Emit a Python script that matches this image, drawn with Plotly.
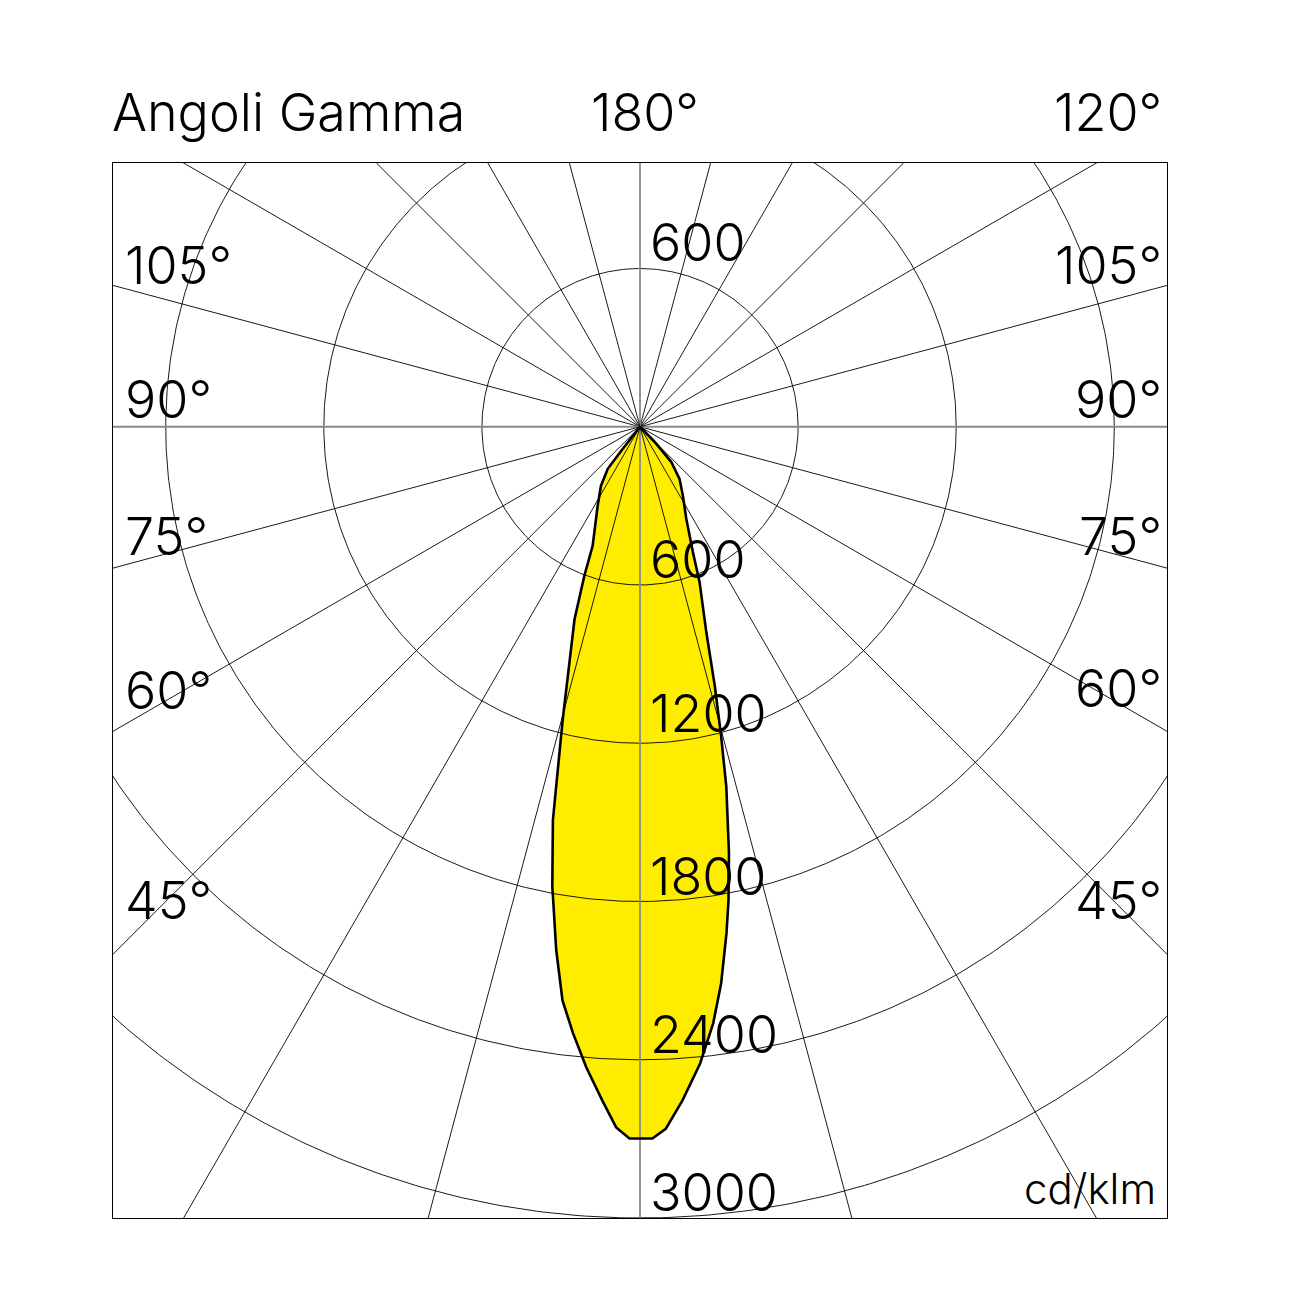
import numpy as np
import plotly.graph_objects as go

# ---- photometric data (cd/klm), gamma in degrees from nadir ----
gamma_right = [1.0, 2.1, 3.6, 5.4, 7.0, 8.3, 9.7, 10.6, 11.8, 13.5, 14.7, 16.1, 17.9,
               21.0, 22.9, 26.7, 31.9, 37.2, 41.7, 44.0, 90.0]
intensity_right = [2699, 2664, 2560, 2425, 2279, 2133, 1948, 1826, 1651, 1403, 1214, 1024, 819,
                   631, 516, 391, 308, 248, 178, 79, 0]
gamma_left = [0.85, 1.95, 3.2, 4.8, 6.3, 7.7, 9.1, 10.4, 10.8, 12.5, 13.5, 14.8, 18.8,
              20.5, 21.7, 28.2, 33.5, 37.5, 38.0, 90.0]
intensity_left = [2699, 2658, 2559, 2437, 2314, 2195, 2010, 1825, 1776, 1527, 1337, 1148, 771,
                  603, 486, 340, 268, 201, 106, 0]

circle_values = [600, 1200, 1800, 2400, 3000]
radial_angles = list(range(0, 360, 15))
side_angle_labels = ["105°", "90°", "75°", "60°", "45°"]
top_labels = ["Angoli Gamma", "180°", "120°"]
unit_label = "cd/klm"

FONT = "Inter, Liberation Sans, Arial, sans-serif"
WEIGHT = 300
OFF = 8  # page body offset
W = H = 1302
L, T = 113 - OFF, 163 - OFF
PW, PH = 1054, 1055
R = W - L - PW
B = H - T - PH

def px(xp):
    return (xp - OFF - L) / PW

def py(yp):
    return (T + PH - (yp - OFF)) / PH

fig = go.Figure()

# polar -> cartesian for the curve (gamma measured from straight down)
gr = np.radians(gamma_right[::-1])
ir = np.array(intensity_right[::-1], dtype=float)
gl = np.radians(gamma_left)
il = np.array(intensity_left, dtype=float)
cx = np.concatenate([[0], ir * np.sin(gr), -il * np.sin(gl), [0]])
cy = np.concatenate([[0], -ir * np.cos(gr), -il * np.cos(gl), [0]])

fig.add_trace(go.Scatter(x=cx, y=cy, mode="lines", fill="toself",
                         fillcolor="#FFED00", line=dict(width=0, color="rgba(0,0,0,0)"),
                         hoverinfo="skip", showlegend=False))

# grid circles
t = np.linspace(0, 2 * np.pi, 721)
for v in circle_values:
    fig.add_trace(go.Scatter(x=v * np.cos(t), y=v * np.sin(t), mode="lines",
                             line=dict(color="black", width=0.9),
                             hoverinfo="skip", showlegend=False))

# radial lines
for a in radial_angles:
    ar = np.radians(a)
    main = a % 90 == 0
    fig.add_trace(go.Scatter(x=[0, 6000 * np.sin(ar)], y=[0, -6000 * np.cos(ar)], mode="lines",
                             line=dict(color="#8a8a8a" if main else "black",
                                       width=1.8 if main else 0.9),
                             hoverinfo="skip", showlegend=False))

# outline
fig.add_trace(go.Scatter(x=cx, y=cy, mode="lines",
                         line=dict(color="black", width=2.6),
                         hoverinfo="skip", showlegend=False))

ann = []
big = dict(family=FONT, size=52, color="black", weight=WEIGHT)

ann.append(dict(text=top_labels[0], x=px(110), y=py(112), xanchor="left", yanchor="middle", font=big))
ann.append(dict(text=top_labels[1], x=px(645), y=py(112), xanchor="center", yanchor="middle", font=big))
ann.append(dict(text=top_labels[2], x=px(1164), y=py(112), xanchor="right", yanchor="middle", font=big))

left_y = [265, 399, 536, 690, 900]
right_y = [265, 399, 536, 688, 900]
for lab, ly, ry in zip(side_angle_labels, left_y, right_y):
    ann.append(dict(text=lab, x=px(123), y=py(ly), xanchor="left", yanchor="middle", font=big))
    ann.append(dict(text=lab, x=px(1164), y=py(ry), xanchor="right", yanchor="middle", font=big))

# radial value labels
ann.append(dict(text=str(circle_values[0]), x=0, y=circle_values[0], xref="x", yref="y",
                xanchor="left", yanchor="bottom", xshift=8, yshift=-7, font=big))
shifts = [-8, -4, -8, -8, -8]
for v, s in zip(circle_values, shifts):
    ann.append(dict(text=str(v), x=0, y=-v, xref="x", yref="y",
                    xanchor="left", yanchor="bottom", xshift=8, yshift=s, font=big))

ann.append(dict(text=unit_label, x=px(1158), y=py(1188), xanchor="right", yanchor="middle",
                font=dict(family=FONT, size=42, color="black", weight=WEIGHT)))

for a_ in ann:
    a_.setdefault("xref", "paper")
    a_.setdefault("yref", "paper")
    a_["showarrow"] = False

fig.update_layout(
    width=W, height=H,
    margin=dict(l=L, r=R, t=T, b=B, pad=0),
    paper_bgcolor="white", plot_bgcolor="white",
    xaxis=dict(range=[-2000, 2000], showgrid=False, zeroline=False, showticklabels=False,
               ticks="", showline=True, mirror=True, linecolor="black", linewidth=1.2,
               fixedrange=True),
    yaxis=dict(range=[-3000, 1000], showgrid=False, zeroline=False, showticklabels=False,
               ticks="", showline=True, mirror=True, linecolor="black", linewidth=1.2,
               fixedrange=True),
    annotations=ann,
    showlegend=False,
)

fig.write_html("out.html")
